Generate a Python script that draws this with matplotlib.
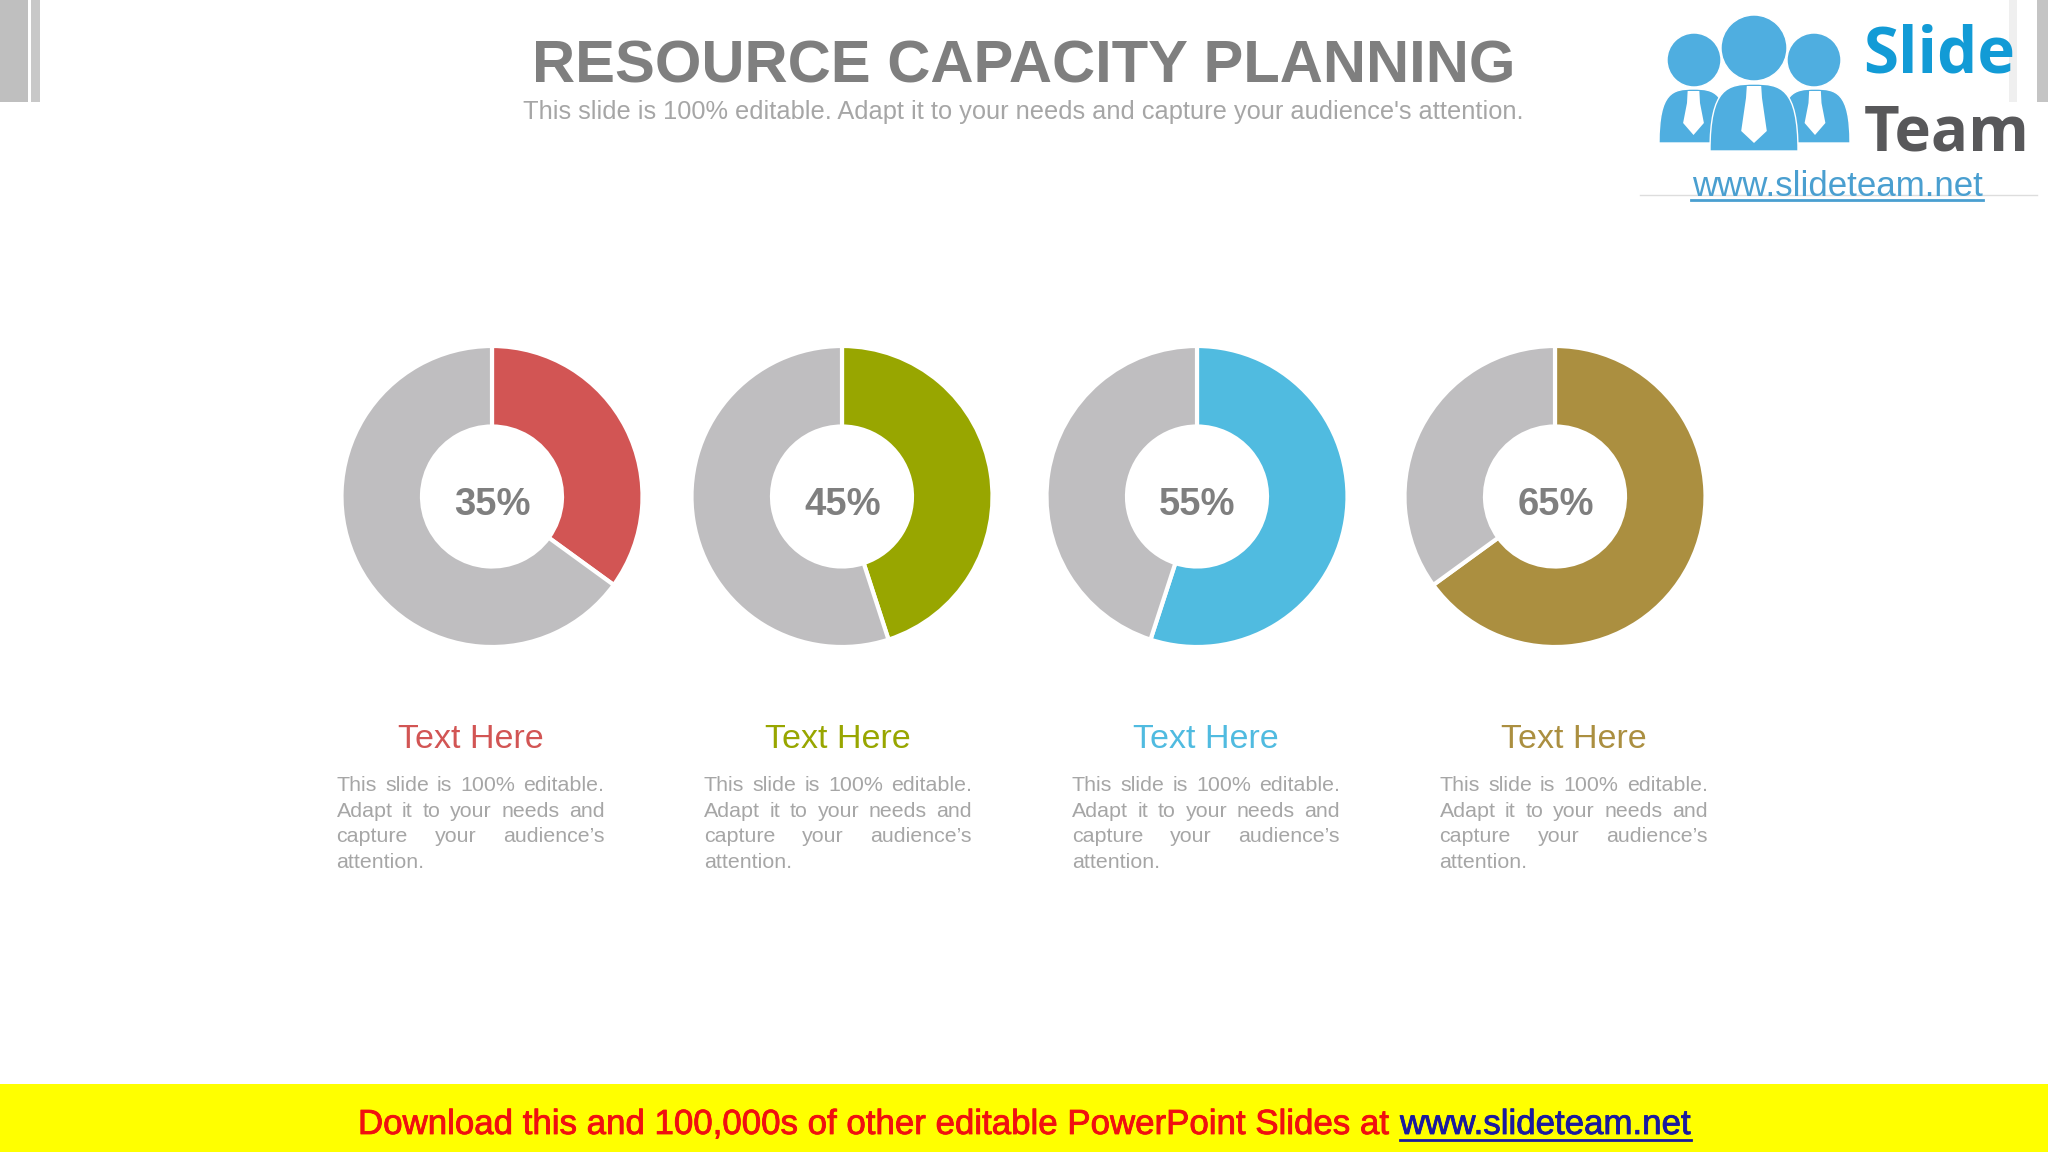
import matplotlib
matplotlib.use("Agg")
import matplotlib.pyplot as plt
import matplotlib.patheffects as pe
from matplotlib.patches import Rectangle, Circle, Polygon, PathPatch
from matplotlib.path import Path

plt.rcParams['font.family'] = ['Liberation Sans', 'DejaVu Sans']

percents = [35, 45, 55, 65]
colors = ['#D25554', '#98A600', '#50BBE0', '#AB8F40']
rest_color = '#BFBEC0'
labels = ['35%', '45%', '55%', '65%']
headings = ['Text Here'] * 4
body_lines = ["This slide is 100% editable.", "Adapt it to your needs and",
              "capture your audience\u2019s", "attention."]
centers_x = [492, 842, 1197, 1555]
text_left = [336.5, 704, 1072, 1439.5]
TEXT_W = 268

fig = plt.figure(figsize=(20.48, 11.52), dpi=100, facecolor='white')
ax = fig.add_axes([0, 0, 1, 1])
H = 1152
def Y(p): return H - p
GREY = '#7F7F7F'

for cx, pct, c, lab in zip(centers_x, percents, colors, labels):
    ax.pie([pct, 100 - pct], colors=[c, rest_color], startangle=90, counterclock=False,
           center=(cx, Y(496.5)), radius=150.5, frame=True,
           wedgeprops=dict(width=80.5, edgecolor='white', linewidth=3))
    ax.text(cx + 0.5, Y(501), lab, ha='center', va='center_baseline', fontsize=27.5, fontweight='bold', color=GREY)

ax.set_xlim(0, 2048); ax.set_ylim(0, H); ax.set_aspect('equal'); ax.axis('off')

# side strips
ax.add_patch(Rectangle((0, Y(102)), 28, 102, color='#BFBFBF', lw=0))
ax.add_patch(Rectangle((31, Y(102)), 9, 102, color='#C8C8C8', lw=0))
ax.add_patch(Rectangle((2009, Y(102)), 8, 102, color='#EFEFEF', lw=0, zorder=3.5))
ax.add_patch(Rectangle((2037, Y(102)), 11, 102, color='#C4C4C4', lw=0, zorder=3.5))

# title
ax.text(1023.5, Y(61), 'RESOURCE CAPACITY PLANNING', ha='center', va='center_baseline', fontsize=43,
        fontweight='bold', color=GREY)
ax.text(1023, Y(110), "This slide is 100% editable. Adapt it to your needs and capture your audience's attention.",
        ha='center', va='center_baseline', fontsize=18.3, color='#A6A6A6')

# justified body text
r = fig.canvas.get_renderer()
FS = 15.4
def width(s, fs):
    t = ax.text(0, 0, s, fontsize=fs)
    w = t.get_window_extent(r).width
    t.remove()
    return w

for x0, c, h in zip(text_left, colors, headings):
    ax.text(x0 + TEXT_W / 2, Y(736), h, ha='center', va='center_baseline', fontsize=24.5, color=c)
    for i, line in enumerate(body_lines):
        y = Y(791 + i * 25.7)
        words = line.split(' ')
        if i == len(body_lines) - 1:
            ax.text(x0, y, line, ha='left', va='baseline', fontsize=FS, color='#A6A6A6')
            continue
        ws = [width(w, FS) for w in words]
        gap = (TEXT_W - sum(ws)) / (len(words) - 1)
        x = x0
        for w, ww in zip(words, ws):
            ax.text(x, y, w, ha='left', va='baseline', fontsize=FS, color='#A6A6A6')
            x += ww + gap

# logo
ax.add_patch(Rectangle((1640, Y(196)), 397, 196, color='white', lw=0, zorder=3))
ax.plot([1640, 2037], [Y(195), Y(195)], color='#DDDDDD', lw=1, zorder=4)
B = '#4FAEE0'
def dome(x0, x1, top, bot, z):
    m = (x0 + x1) / 2
    w = x1 - x0
    verts = [(x0, Y(bot)), (x0, Y(top + 0.05 * (bot-top))), (x0 + 0.2 * w, Y(top)), (m, Y(top)),
             (x1 - 0.2 * w, Y(top)), (x1, Y(top + 0.05 * (bot-top))), (x1, Y(bot)), (x0, Y(bot))]
    codes = [Path.MOVETO, Path.CURVE4, Path.CURVE4, Path.CURVE4, Path.CURVE4, Path.CURVE4, Path.CURVE4, Path.CLOSEPOLY]
    ax.add_patch(PathPatch(Path(verts, codes), facecolor=B, edgecolor='white', lw=1, zorder=z))
for cx, cy, rad, bx0, bx1, btop, bbot, tw, z in [(1694, 60, 27, 1659, 1728, 89, 143, 13, 5), (1814, 60, 27, 1780, 1850, 89, 143, 13, 5),
                             (1754, 48, 33, 1710, 1798, 84, 151, 16, 6)]:
    dome(bx0, bx1, btop, bbot, z)
    ax.add_patch(Circle((cx, Y(cy)), rad, facecolor=B, edgecolor='white', lw=1, zorder=z))
    mx = (bx0 + bx1) / 2
    ax.add_patch(Polygon([(mx - tw*0.45, Y(btop+2)), (mx + tw*0.45, Y(btop+2)), (mx + tw*0.5, Y(btop+14)),
                          (mx + tw*0.8, Y(bbot-20)), (mx, Y(bbot-8)), (mx - tw*0.8, Y(bbot-20)),
                          (mx - tw*0.5, Y(btop+14))], color='white', lw=0, zorder=z + 0.5))
ax.text(1863, Y(56), 'Slide', ha='left', va='center', fontsize=45.8, fontweight='bold', color='#129BD6', zorder=7,
        family='Open Sans')
ax.text(1864, Y(134), 'Team', ha='left', va='center', fontsize=44.5, fontweight='bold', color='#58585A', zorder=7,
        family='Open Sans')
ax.text(1837, Y(186), 'www.slideteam.net', ha='center', va='center', fontsize=25.1, color='#4A9FD0', zorder=7)
ax.plot([1691, 1983], [Y(200), Y(200)], color='#4A9FD0', lw=2, zorder=7)

# footer
ax.add_patch(Rectangle((0, 0), 2048, H - 1084, color='#FFFF00', lw=0))
ax.text(358, Y(1134), 'Download this and 100,000s of other editable PowerPoint Slides at ',
        ha='left', va='baseline', fontsize=25.1, color='#F01010',
        path_effects=[pe.withStroke(linewidth=0.6, foreground='#F01010')])
ax.text(1400, Y(1134), 'www.slideteam.net', ha='left', va='baseline', fontsize=25.1, color='#1A1A9E',
        path_effects=[pe.withStroke(linewidth=0.6, foreground='#1A1A9E')])
ax.plot([1400, 1691], [Y(1140), Y(1140)], color='#1A1A9E', lw=2)

fig.savefig('out.png', dpi=100, facecolor='white')
